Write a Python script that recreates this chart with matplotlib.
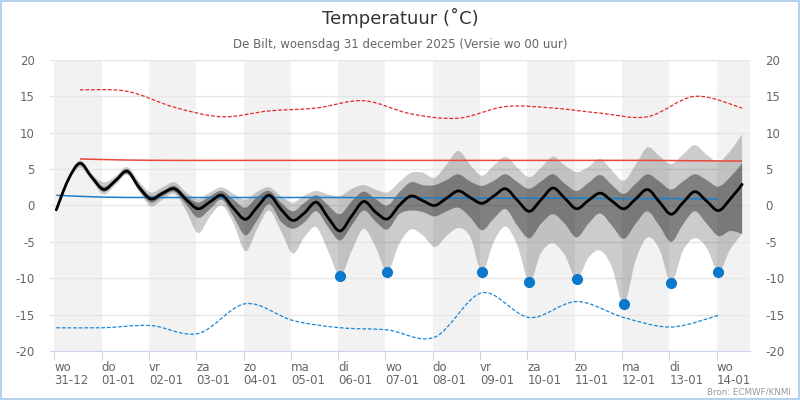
import numpy as np
import matplotlib
matplotlib.use("Agg")
import matplotlib.pyplot as plt
from matplotlib.path import Path
from matplotlib.patches import PathPatch, Rectangle

plt.rcParams["font.family"] = ["DejaVu Sans"]
plt.rcParams["axes.unicode_minus"] = False

# =========================
# DATA (6-uurlijks, vanaf 31-12 01 uur)
# =========================
mediaan = [-0.6, 3.5, 5.8, 3.9, 2.2, 3.4, 4.7, 2.5, 0.9, 1.7, 2.3, 0.8, -0.45, 0.5, 1.4,
           -0.4, -1.9, -0.2, 1.4, -0.5, -2.05, -1.0, 0.45, -1.7, -3.5, -1.4, 0.55, -0.9,
           -1.85, 0.0, 1.3, 0.65, 0.0, 1.0, 2.0, 1.1, 0.3, 1.3, 2.3, 0.7, -0.8, 0.8, 2.4,
           1.0, -0.45, 0.7, 1.7, 0.6, -0.45, 0.9, 2.2, 0.5, -1.2, 0.4, 1.9, 0.6, -0.7, 0.9, 2.9]
p75 = [-0.5, 3.7, 6.0, 4.1, 2.6, 3.7, 5.0, 2.9, 1.3, 2.0, 2.7, 1.3, 0.4, 1.3, 2.0,
       0.8, -0.3, 1.2, 2.0, 0.4, -0.8, 0.4, 1.4, 0.0, -1.2, 0.6, 1.9, 0.9,
       0.0, 1.8, 3.2, 2.8, 2.8, 3.5, 4.3, 3.3, 2.7, 3.4, 4.3, 3.2, 2.3, 3.3, 4.3,
       3.0, 2.0, 3.1, 4.2, 2.8, 1.6, 3.0, 4.3, 3.3, 2.2, 3.3, 4.3, 3.5, 2.6, 3.9, 5.8]
p25 = [-0.7, 3.3, 5.6, 3.7, 1.9, 3.1, 4.4, 2.1, 0.4, 1.3, 1.9, 0.1, -1.7, -0.5, 0.8,
       -1.6, -4.1, -2.0, 0.2, -2.2, -3.2, -2.3, -0.8, -3.0, -4.8, -2.7, -0.7, -2.2,
       -3.3, -1.2, -0.7, -0.9, -1.5, -0.8, -0.3, -1.6, -3.4, -1.8, -0.5, -2.8, -4.5, -2.5, -1.2,
       -2.5, -4.4, -2.5, -1.1, -2.8, -4.6, -2.5, -0.8, -2.8, -5.0, -2.6, -0.8, -2.5, -4.2, -3.5, -3.9]
hoogste = [-0.4, 3.8, 6.2, 4.3, 3.2, 4.0, 5.3, 3.3, 1.8, 2.5, 3.2, 1.8, 0.9, 1.8, 2.5,
           1.6, 0.8, 1.9, 2.5, 1.3, 0.4, 1.4, 2.0, 1.5, 1.3, 2.3, 2.8, 2.2,
           1.8, 3.2, 4.5, 4.5, 3.8, 5.6, 7.5, 5.6, 4.1, 5.5, 6.7, 5.2, 3.9, 5.2, 6.7,
           5.5, 4.6, 5.3, 6.4, 4.8, 3.4, 5.6, 8.0, 6.8, 5.7, 7.0, 8.3, 7.0, 6.0, 7.5, 9.8]
laagste = [-0.8, 3.2, 5.2, 3.4, 1.5, 2.8, 4.2, 1.9, -0.1, 0.8, 1.6, -0.8, -3.8, -1.5, 0.0,
           -2.5, -6.3, -3.2, -0.7, -3.5, -6.6, -4.3, -3.0, -6.3, -9.7, -6.2, -3.2, -5.7,
           -9.1, -5.3, -3.3, -4.1, -5.7, -4.2, -3.1, -4.3, -9.1, -5.0, -2.9, -5.5, -10.5, -6.5, -5.2,
           -6.8, -10.1, -7.2, -6.2, -8.5, -13.6, -7.5, -4.4, -6.0, -10.6, -6.2, -4.5, -5.8, -9.1, -6.0, -3.9]

# dagwaarden (normaal / record)
norm_max = [6.4, 6.25, 6.2, 6.2, 6.2, 6.2, 6.2, 6.2, 6.2, 6.2, 6.2, 6.2, 6.2, 6.15, 6.1]
norm_min = [1.4, 1.15, 1.1, 1.1, 1.1, 1.1, 1.1, 1.05, 1.05, 1.0, 1.0, 1.0, 0.95, 0.95, 0.9]
record_max = [15.9, 15.7, 13.5, 12.2, 13.0, 13.4, 14.4, 12.6, 12.0, 13.6, 13.4, 12.7, 12.2, 15.0, 13.4]
record_min = [-16.8, -16.8, -16.5, -17.6, -13.5, -15.8, -16.8, -17.1, -18.1, -12.0, -15.4, -13.2,
              -15.4, -16.7, -15.1]

stip_dagen = [6, 7, 9, 10, 11, 12, 13, 14]
stip_waarden = [-9.7, -9.1, -9.1, -10.5, -10.1, -13.6, -10.6, -9.1]

dag_namen = ["wo", "do", "vr", "za", "zo", "ma", "di", "wo", "do", "vr", "za", "zo", "ma", "di", "wo"]
datums = ["31-12", "01-01", "02-01", "03-01", "04-01", "05-01", "06-01", "07-01",
          "08-01", "09-01", "10-01", "11-01", "12-01", "13-01", "14-01"]


# =========================
# SPLINE HELPERS (zoals een highcharts spline)
# =========================
def spline(x, y):
    pts = np.column_stack([x, y])
    n = len(pts)
    verts = [pts[0]]
    codes = [Path.MOVETO]
    for i in range(n - 1):
        prev = pts[max(i - 1, 0)]
        nxt = pts[min(i + 2, n - 1)]
        verts.append(pts[i] + (pts[i + 1] - prev) / 6)
        verts.append(pts[i + 1] - (nxt - pts[i]) / 6)
        verts.append(pts[i + 1])
        codes += [Path.CURVE4] * 3
    return verts, codes


def band(ax, x, lo, hi, **kw):
    x = np.asarray(x)
    v1, c1 = spline(x, np.asarray(hi))
    v2, c2 = spline(x[::-1], np.asarray(lo)[::-1])
    c2[0] = Path.LINETO
    verts = v1 + v2 + [v1[0]]
    codes = c1 + c2 + [Path.CLOSEPOLY]
    ax.add_patch(PathPatch(Path(verts, codes), **kw))


def curve(ax, x, y, **kw):
    v, c = spline(np.asarray(x), np.asarray(y))
    ax.add_patch(PathPatch(Path(v, c), fill=False, **kw))


# =========================
# PLOT
# =========================
fig = plt.figure(figsize=(8, 4), dpi=100)
ax = fig.add_axes([50 / 800, 49 / 400, 700 / 800, 291 / 400])

tijd = np.arange(len(mediaan)) * 0.25 + 1 / 24
dagen = np.arange(len(datums))
t_max = dagen + 0.54
t_min = dagen + 1 / 24

# dag-arcering
for d in dagen[::2]:
    ax.axvspan(d, d + 1, color="#f2f2f2", lw=0, zorder=0.1)

band(ax, tijd, laagste, hoogste, facecolor="black", alpha=0.2, lw=0, zorder=1)
band(ax, tijd, p25, p75, facecolor="black", alpha=0.37, lw=0, zorder=1.1)

curve(ax, t_max, norm_max, edgecolor="#e8473c", lw=1.1, zorder=2)
curve(ax, t_min, norm_min, edgecolor="#1a7fcc", lw=1.1, zorder=2)
curve(ax, t_max, record_max, edgecolor="#e02b25", lw=0.9, linestyle=(0, (3, 1.5)), zorder=2)
curve(ax, t_min, record_min, edgecolor="#1a86d6", lw=0.9, linestyle=(0, (3, 1.5)), zorder=2)
curve(ax, tijd, mediaan, edgecolor="black", lw=2.0, capstyle="round", zorder=3)

ax.plot(np.array(stip_dagen) + 1 / 24, stip_waarden, "o", color="#0a78cc", ms=7, zorder=4)

ax.set_xlim(-0.091, 14.708)
ax.set_ylim(-20, 20)

ax.set_yticks(np.arange(-20, 21, 5))
ax.yaxis.grid(True, color="#e6e6e6", lw=1)
ax.set_axisbelow(True)
ax.tick_params(axis="y", left=False, right=False, labelleft=True, labelright=True,
               length=0, pad=11, labelsize=8.5, labelcolor="#666666")

ax.set_xticks(dagen)
ax.set_xticklabels([f"{n}\n{d}" for n, d in zip(dag_namen, datums)],
                   ha="left", fontsize=8.5, color="#666666", linespacing=1.05)
ax.tick_params(axis="x", length=6.5, color="#ccd6eb", pad=0.5)

for s in ["top", "left", "right"]:
    ax.spines[s].set_visible(False)
ax.spines["bottom"].set_color("#ccd6eb")

fig.text(0.5, 0.955, "Temperatuur (˚C)", ha="center", va="center", fontsize=13, color="#333333")
fig.text(0.5, 0.888, "De Bilt, woensdag 31 december 2025 (Versie wo 00 uur)",
         ha="center", va="center", fontsize=8.5, color="#666666")
fig.text(0.988, 0.008, "Bron: ECMWF/KNMI", ha="right", va="bottom", fontsize=6.3, color="#999999")

fig.patches.append(Rectangle((0.001, 0.002), 0.998, 0.996, transform=fig.transFigure,
                             fill=False, edgecolor="#a9c9ef", lw=1.2))

fig.savefig("out.png", dpi=100)
